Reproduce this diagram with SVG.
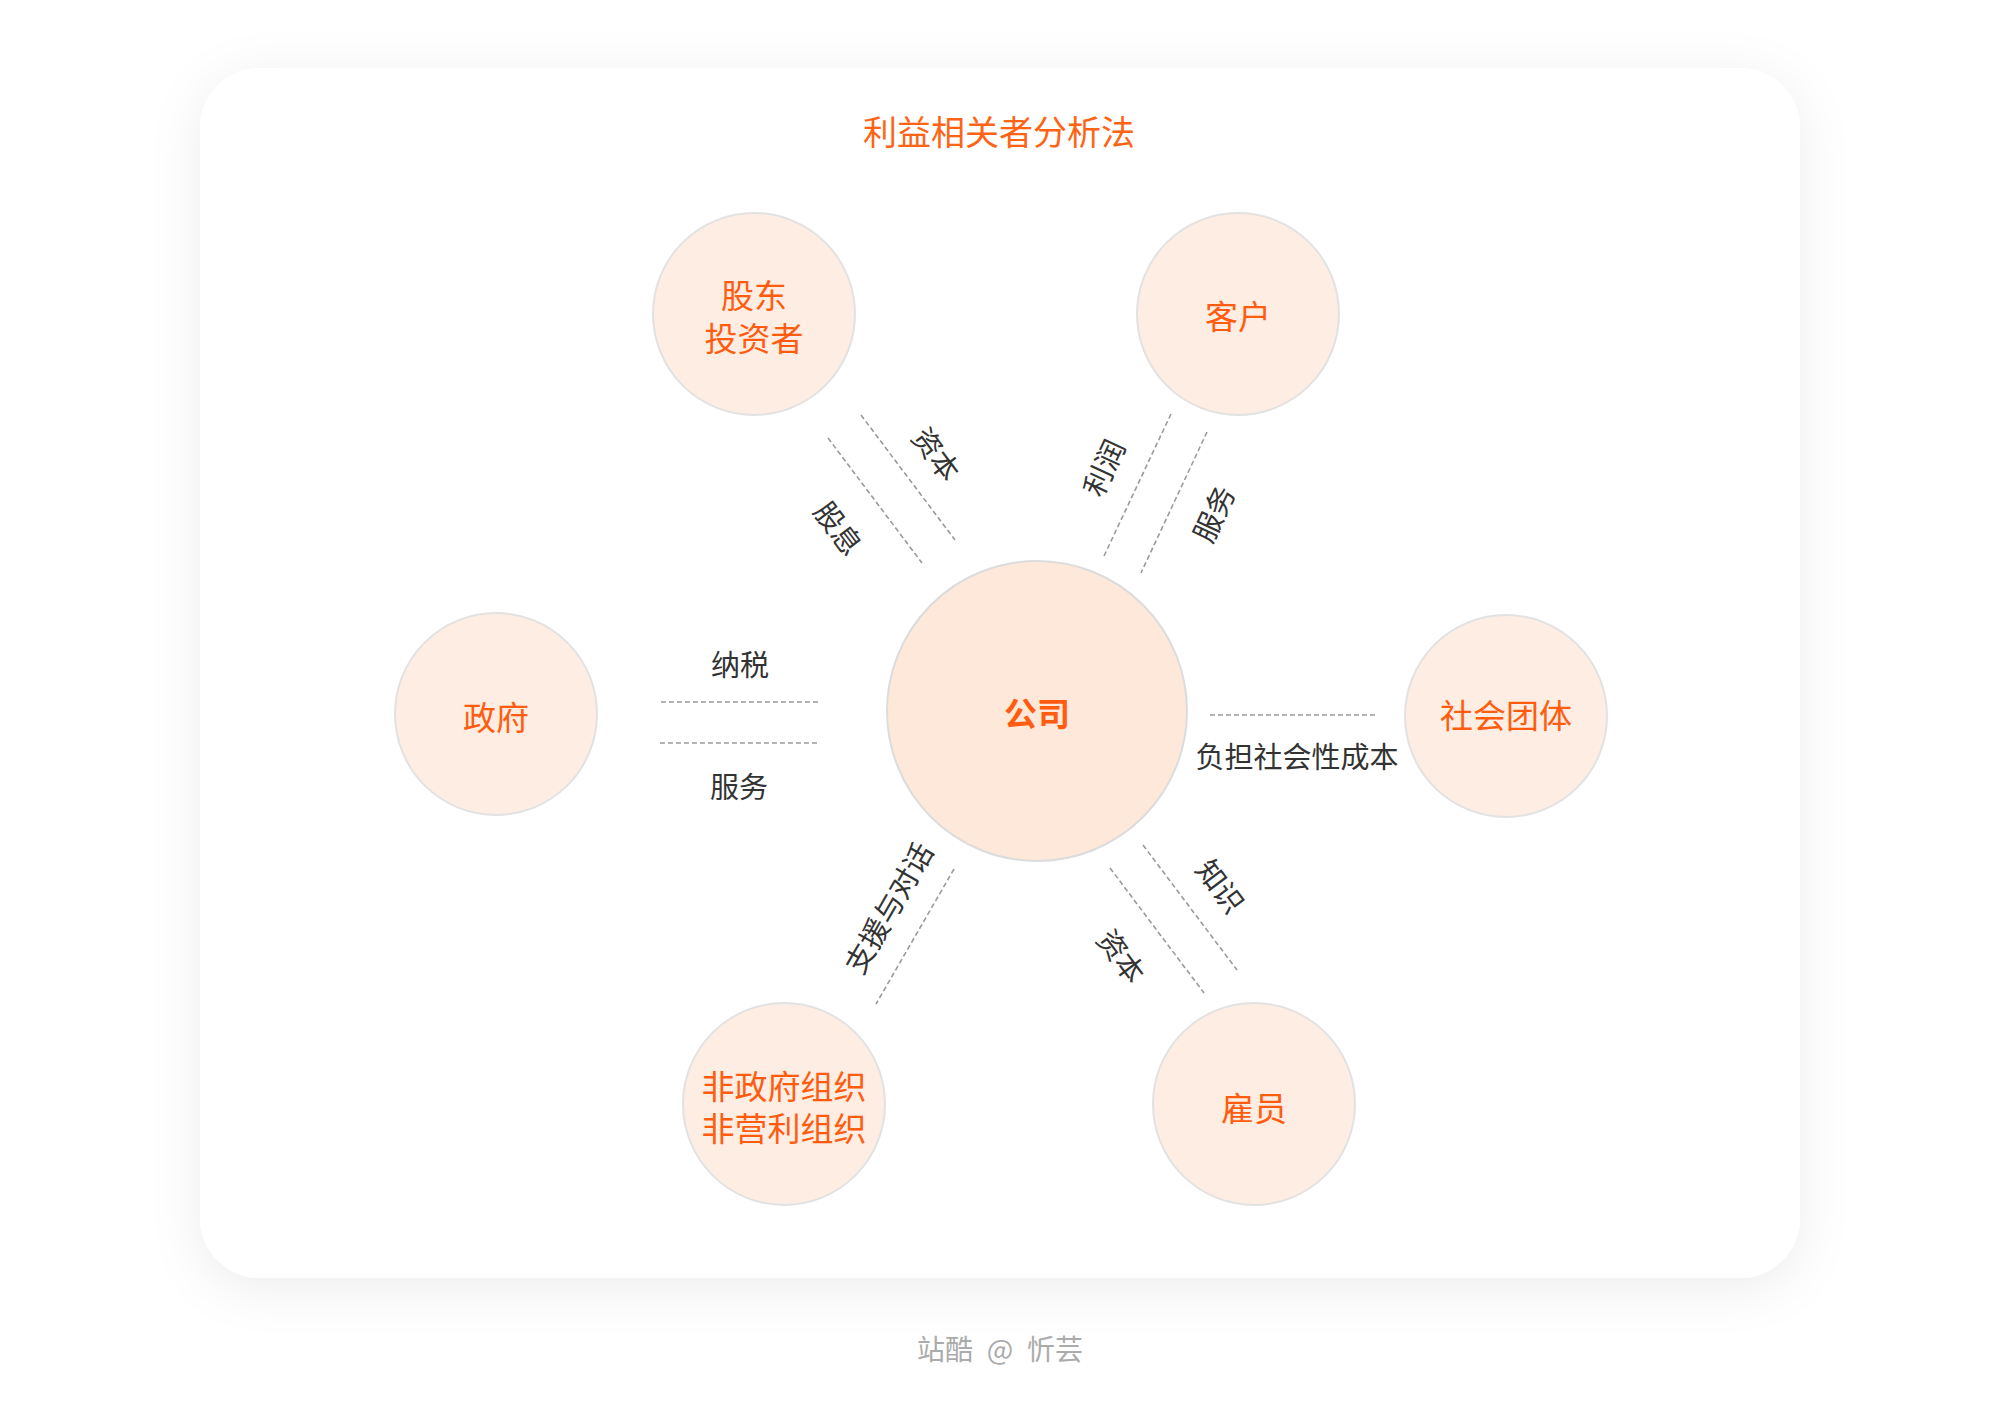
<svg xmlns="http://www.w3.org/2000/svg" width="2000" height="1414" viewBox="0 0 2000 1414">
  <defs>
    <filter id="shadow" x="-10%" y="-10%" width="120%" height="125%">
      <feDropShadow dx="0" dy="10" stdDeviation="26" flood-color="#000" flood-opacity="0.07"/>
    </filter>
    <style>
      .node { fill: #FDEDE3; stroke: #E2E2E2; stroke-width: 2; }
      .core { fill: #FDE8DA; stroke: #DCDCDC; stroke-width: 2; }
      .ntext { font-family: "Noto Sans CJK SC", "Noto Sans", sans-serif; font-size: 33px; fill: #FF5C0F; text-anchor: middle; dominant-baseline: central; }
      .ctext { font-family: "Noto Sans CJK SC", "Noto Sans", sans-serif; font-size: 33px; font-weight: bold; fill: #FF5C0F; text-anchor: middle; dominant-baseline: central; }
      .label { font-family: "Noto Sans CJK SC", "Noto Sans", sans-serif; font-size: 29px; fill: #333333; text-anchor: middle; dominant-baseline: central; }
      .dash { stroke: #9A9A9A; stroke-width: 1.6; stroke-dasharray: 5 3; fill: none; }
      .title { font-family: "Noto Sans CJK SC", "Noto Sans", sans-serif; font-size: 34px; fill: #FF6414; text-anchor: middle; dominant-baseline: central; }
      .mark { font-family: "Noto Sans CJK SC", "Noto Sans", sans-serif; font-size: 28px; fill: #ABABAB; text-anchor: middle; dominant-baseline: central; }
    </style>
  </defs>
  <rect x="0" y="0" width="2000" height="1414" fill="#FFFFFF"/>
  <rect x="200" y="68" width="1600" height="1210" rx="60" ry="60" fill="#FFFFFF" filter="url(#shadow)"/>
  <text class="title" x="999" y="130">利益相关者分析法</text>

  <g id="connectors">
    <line class="dash" x1="861" y1="415" x2="955" y2="540"/>
    <line class="dash" x1="828" y1="438" x2="922" y2="563"/>
    <line class="dash" x1="1171" y1="414" x2="1104" y2="556"/>
    <line class="dash" x1="1207" y1="432" x2="1141" y2="573"/>
    <line class="dash" x1="661" y1="702" x2="818" y2="702"/>
    <line class="dash" x1="660" y1="743" x2="817" y2="743"/>
    <line class="dash" x1="1210" y1="715" x2="1377" y2="715"/>
    <line class="dash" x1="954" y1="869" x2="876" y2="1004"/>
    <line class="dash" x1="1143" y1="845" x2="1237" y2="970"/>
    <line class="dash" x1="1110" y1="868" x2="1204" y2="993"/>
    <text class="label" transform="translate(938,453) rotate(53)">资本</text>
    <text class="label" transform="translate(840,527) rotate(53)">股息</text>
    <text class="label" transform="translate(1102,467) rotate(-65)">利润</text>
    <text class="label" transform="translate(1212,513) rotate(-65)">服务</text>
    <text class="label" x="740" y="663">纳税</text>
    <text class="label" x="739" y="785">服务</text>
    <text class="label" x="1297" y="755">负担社会性成本</text>
    <text class="label" transform="translate(887,907) rotate(-60)">支援与对话</text>
    <text class="label" transform="translate(1222,885) rotate(53)">知识</text>
    <text class="label" transform="translate(1123,955) rotate(53)">资本</text>
  </g>

  <g id="company">
    <circle class="core" cx="1037" cy="711" r="150"/>
    <text class="ctext" x="1037" y="712">公司</text>
  </g>
  <g id="shareholders">
    <circle class="node" cx="754" cy="314" r="101"/>
    <text class="ntext"><tspan x="754" y="294">股东</tspan><tspan x="754" y="337">投资者</tspan></text>
  </g>
  <g id="customers">
    <circle class="node" cx="1238" cy="314" r="101"/>
    <text class="ntext" x="1238" y="315">客户</text>
  </g>
  <g id="government">
    <circle class="node" cx="496" cy="714" r="101"/>
    <text class="ntext" x="496" y="716">政府</text>
  </g>
  <g id="social-groups">
    <circle class="node" cx="1506" cy="716" r="101"/>
    <text class="ntext" x="1506" y="714">社会团体</text>
  </g>
  <g id="ngo">
    <circle class="node" cx="784" cy="1104" r="101"/>
    <text class="ntext"><tspan x="784" y="1085">非政府组织</tspan><tspan x="784" y="1127">非营利组织</tspan></text>
  </g>
  <g id="employees">
    <circle class="node" cx="1254" cy="1104" r="101"/>
    <text class="ntext" x="1254" y="1107">雇员</text>
  </g>

  <text class="mark" y="1348"><tspan x="945">站酷</tspan><tspan x="1000">@</tspan><tspan x="1055">忻芸</tspan></text>
</svg>
